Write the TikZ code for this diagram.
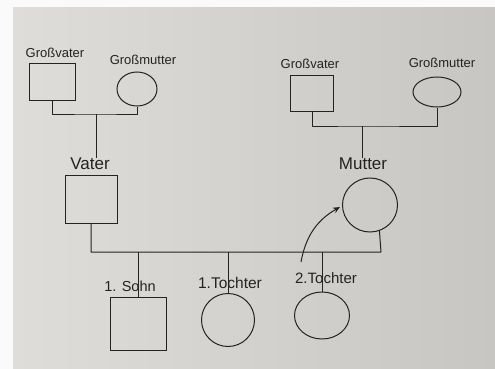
\documentclass[tikz,border=0pt]{standalone}
\usepackage{fontspec}
\setmainfont{Liberation Sans}
\usetikzlibrary{shapes.geometric,arrows.meta}
\definecolor{ink}{RGB}{35,35,35}
\definecolor{paperL}{RGB}{222,221,217}
\definecolor{paperR}{RGB}{200,198,194}
\tikzset{
  pen/.style={draw=ink, line width=1pt},
  malebox/.style={pen, rectangle, inner sep=0pt},
  femaleshape/.style={pen, ellipse, inner sep=0pt},
  lab/.style={text=ink, inner sep=0pt, font=\fontsize{13}{13}\selectfont},
  link/.style={pen, line join=round}
}
\begin{document}
\begin{tikzpicture}[x=1pt,y=-1pt]
\useasboundingbox (0,0) rectangle (495,369);
\fill[white!96!gray] (0,0) rectangle (495,369);
\shade[left color=paperL, right color=paperR] (13,8) rectangle (495,369);

% left grandparents
\node[malebox, minimum width=46pt, minimum height=37pt] (gvL) at (52,82) {};
\node[femaleshape, minimum width=40pt, minimum height=34pt] (gmL) at (137,89) {};
\node[lab] (gvLlab) at (55,53) {Großvater};
\node[lab] (gmLlab) at (143,60) {Großmutter};

% right grandparents
\node[malebox, minimum width=43pt, minimum height=36pt] (gvR) at (312,93) {};
\node[femaleshape, minimum width=48pt, minimum height=30pt] (gmR) at (437,92) {};
\node[lab] (gvRlab) at (310,64) {Großvater};
\node[lab] (gmRlab) at (442,63) {Großmutter};

% parents
\node[malebox, minimum width=52pt, minimum height=48pt] (vater) at (91,199) {};
\node[lab, font=\fontsize{17}{17}\selectfont] (vlab) at (90,164) {Vater};
\node[femaleshape, minimum width=55pt, minimum height=54pt] (mutter) at (370,205) {};
\node[lab, font=\fontsize{17}{17}\selectfont] (mlab) at (363,164) {Mutter};

% children
\node[malebox, minimum width=56pt, minimum height=53pt] (sohn) at (138,324) {};
\node[lab, font=\fontsize{14.5}{14.5}\selectfont] (slab) at (130,286) {1. Sohn};
\node[femaleshape, minimum width=53pt, minimum height=53pt] (t1) at (228,320) {};
\node[lab, font=\fontsize{15.5}{15.5}\selectfont] (t1lab) at (230,283) {1.Tochter};
\node[femaleshape, minimum width=55pt, minimum height=47pt] (t2) at (322,315.5) {};
\node[lab, font=\fontsize{15}{15}\selectfont] (t2lab) at (326,278) {2.Tochter};

% connectors
\coordinate (jL) at (96,114);
\coordinate (jR) at (362,126);
\coordinate (bar) at (381,252);
\draw[link] (gvL.south) |- (jL) -| (gmL.south);
\draw[link] (jL) -- (jL |- vlab.north);
\draw[link] (gvR.south) |- (jR) -| (gmR.south);
\draw[link] (jR) -- (jR |- mlab.north);
\draw[link] (vater.south) |- (bar) -- (mutter.290);
\draw[link] (sohn.north) -- (sohn.north |- bar);
\draw[link] (t1.north) -- (t1.north |- bar);
\draw[link] (t2.north) -- (t2.north |- bar);

% arrow
\coordinate (arA) at (301,262);
\coordinate (arB) at (340,207);
\draw[pen, -{Stealth[length=7pt,width=6pt]}] (arA) to[bend left=25] (arB);
\end{tikzpicture}
\end{document}
